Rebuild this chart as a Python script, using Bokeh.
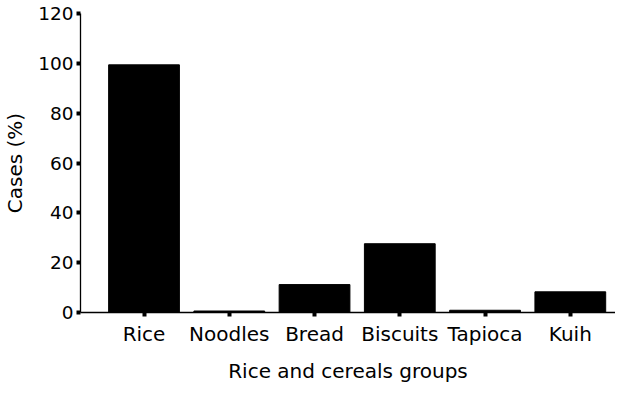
from bokeh.plotting import figure
from bokeh.models import Range1d, ColumnDataSource, FixedTicker
from bokeh.embed import file_html
from bokeh.resources import INLINE

categories = ["Rice", "Noodles", "Bread", "Biscuits", "Tapioca", "Kuih"]
cases_pct = [99.4, 0.6, 11.2, 27.6, 0.9, 8.3]
y_ticks = [0, 20, 40, 60, 80, 100, 120]

xpos = list(range(len(categories)))
source = ColumnDataSource(data=dict(x=xpos, cat=categories, val=cases_pct))

p = figure(
    width=615, height=385,
    x_range=Range1d(-0.745, len(categories) - 1 + 0.53),
    y_range=Range1d(0, 120),
    output_backend="svg", toolbar_location=None,
    min_border_left=80, min_border_right=0, min_border_top=13, min_border_bottom=72,
)
p.vbar(x="x", top="val", width=0.83, source=source,
       fill_color="black", line_color="black", line_width=1)

font = "DejaVu Sans"
p.outline_line_color = None
p.xgrid.visible = False
p.ygrid.visible = False

for ax in (p.xaxis, p.yaxis):
    ax.axis_line_color = "black"
    ax.axis_line_width = 1.3
    ax.major_tick_line_color = "black"
    ax.major_tick_line_width = 4
    ax.major_tick_out = 4
    ax.major_tick_in = 0
    ax.minor_tick_line_color = None
    ax.major_label_text_font = font
    ax.axis_label_text_font = font
    ax.axis_label_text_font_style = "normal"
    ax.major_label_text_color = "black"
    ax.axis_label_text_color = "black"

p.yaxis.ticker = FixedTicker(ticks=y_ticks)
p.yaxis.axis_label = "Cases (%)"
p.yaxis.major_label_text_font_size = "18.5px"
p.yaxis.axis_label_text_font_size = "20px"
p.yaxis.major_label_standoff = 3
p.yaxis.axis_label_standoff = 8

p.xaxis.ticker = FixedTicker(ticks=xpos)
p.xaxis.major_label_overrides = {i: c for i, c in zip(xpos, categories)}
p.xaxis.axis_label = "Rice and cereals groups"
p.xaxis.major_label_text_font_size = "20px"
p.xaxis.axis_label_text_font_size = "20px"
p.xaxis.major_label_standoff = 5
p.xaxis.axis_label_standoff = 10

open("out.html", "w").write(file_html(p, INLINE))
